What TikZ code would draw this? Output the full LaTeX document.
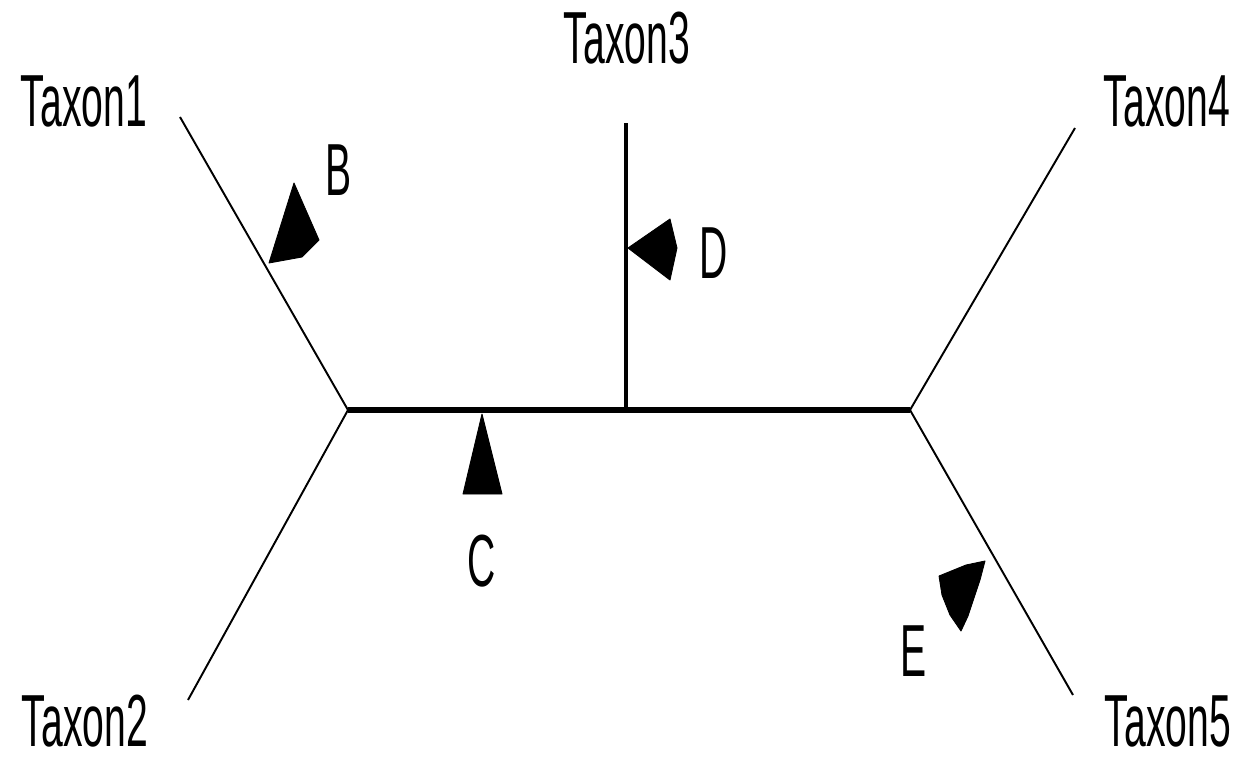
\documentclass[tikz,border=0pt]{standalone}
\usepackage{fontspec}
\newfontfamily\taxfont[FakeStretch=0.53]{Liberation Sans}
\begin{document}
\begin{tikzpicture}[x=0.02cm,y=-0.02cm,
  lbl/.style={inner sep=0pt,font=\taxfont\fontsize{42}{44}\selectfont},
  twig/.style={line width=1.1pt},
  inner/.style={line width=3.2pt},
  stem/.style={line width=2.2pt},
  flag/.style={fill=black,draw=black,line width=0.5pt,line join=round}]
\useasboundingbox (0,0) rectangle (1242,757);
\fill[white] (0,0) rectangle (1242,757);

% internal nodes and leaf ends
\coordinate (L) at (348,410);
\coordinate (R) at (910,410);
\coordinate (M) at (626,410);
\coordinate (t1) at (180,117);
\coordinate (t2) at (188,700);
\coordinate (t3) at (626,123);
\coordinate (t4) at (1075,128);
\coordinate (t5) at (1073,695);

% branches
\draw[inner] (L) -- (R);
\draw[stem] (M) -- (t3);
\draw[twig] (L) -- (t1);
\draw[twig] (L) -- (t2);
\draw[twig] (R) -- (t4);
\draw[twig] (R) -- (t5);

% taxon labels
\node[lbl] (n1) at (84,101) {Taxon1};
\node[lbl] (n2) at (85,721) {Taxon2};
\node[lbl] (n3) at (627,38) {Taxon3};
\node[lbl] (n4) at (1167,101) {Taxon4};
\node[lbl] (n5) at (1168,721) {Taxon5};

% branch markers
\filldraw[flag] (294,183) -- (319,240) -- (302,257) -- (269,263) -- cycle;
\filldraw[flag] (628,248) -- (670,219) -- (677,248) -- (670,280) -- cycle;
\filldraw[flag] (482,414) -- (502,494) -- (463,494) -- cycle;
\filldraw[flag] (985,561) -- (980,580) -- (968,616) -- (961,631) -- (950,615) -- (942,595) -- (939,576) -- (966,565) -- cycle;

% marker labels
\node[lbl] (lB) at (339,170) {B};
\node[lbl] (lD) at (714,253) {D};
\node[lbl] (lC) at (482,561) {C};
\node[lbl] (lE) at (914,651) {E};
\end{tikzpicture}
\end{document}
